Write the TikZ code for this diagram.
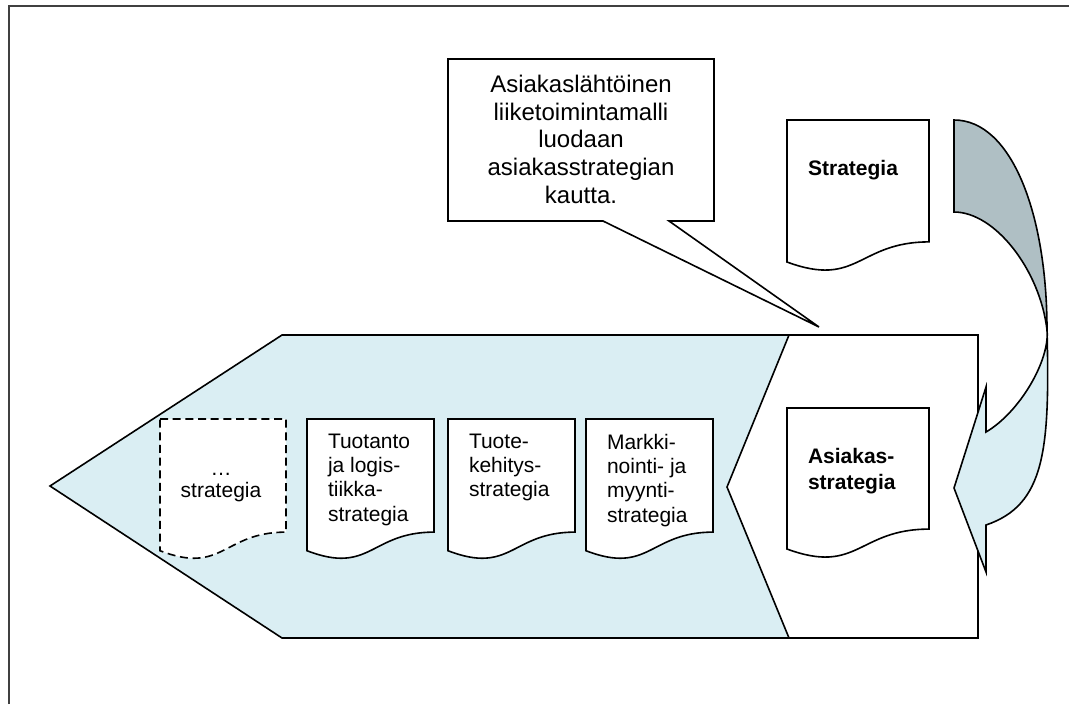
\documentclass[tikz,border=0pt]{standalone}
\usepackage{fontspec}
\setmainfont{Liberation Sans}
\newcommand\calltext{\fontsize{18pt}{20.85pt}\selectfont}
\newcommand\doctext{\fontsize{15.75pt}{18.2pt}\selectfont}
\newcommand\dashtext{\fontsize{15.75pt}{16.9pt}\selectfont}
\newcommand\boldtext{\fontsize{15.75pt}{19.5pt}\selectfont\bfseries}
\definecolor{lightaqua}{RGB}{218,238,243}
\definecolor{darkaqua}{RGB}{175,191,196}
\tikzset{
  outline/.style={draw=black, line width=1.2pt, line join=miter},
  docbox/.style={outline, fill=white},
  dashdoc/.style={draw=black, line width=1.2pt, fill=white, dash pattern=on 6pt off 3.5pt},
  frameline/.style={draw=black!75, line width=2pt},
  txt/.style={inner sep=0pt, outer sep=0pt},
}
\begin{document}
\begin{tikzpicture}[x=0.75pt,y=-0.75pt]
\useasboundingbox (0,0) rectangle (1069,704);
\fill[white] (0,0) rectangle (1069,704);
% frame (only top and left visible)
\draw[frameline] (9,704) -- (9,6) -- (1069,6);

% big arrow pointing left
\path[outline, fill=lightaqua] (50,486) coordinate (tipL) -- (282,335) -- (978,335) -- (978,638) -- (282,638) -- cycle;
% white chevron section
\path[outline, fill=white] (789,335) -- (978,335) -- (978,638) -- (789,638) -- (727,487) -- cycle;

% dashed document
\path[dashdoc] (160,419) -- (286,419) -- (286,532.1) .. controls (223,532.1) and (223,575.2) .. (160,550.7) -- cycle;
\node[txt, anchor=south, align=center, font=\dashtext] (dots) at (221,502) {…\\strategia};

% document 2
\path[docbox] (307,419) -- (434,419) -- (434,532.1) .. controls (370.5,532.1) and (370.5,575.2) .. (307,550.7) -- cycle;
\node[txt, anchor=north west, align=left, font=\doctext] (tuotanto) at (328,434) {Tuotanto\\ja logis-\\tiikka-\\strategia};

% document 3
\path[docbox] (448,419) -- (575,419) -- (575,532.1) .. controls (511.5,532.1) and (511.5,575.2) .. (448,550.7) -- cycle;
\node[txt, anchor=north west, align=left, font=\doctext] (tuote) at (469,434) {Tuote-\\kehitys-\\strategia};

% document 4
\path[docbox] (586,419) -- (713,419) -- (713,532.1) .. controls (649.5,532.1) and (649.5,575.2) .. (586,550.7) -- cycle;
\node[txt, anchor=north west, align=left, font=\doctext] (markki) at (607,434) {Markki-\\nointi- ja\\myynti-\\strategia};

% Asiakasstrategia document
\path[docbox] (787,408) -- (929,408) -- (929,529.1) .. controls (858,529.1) and (858,575.2) .. (787,549) -- cycle;
\node[txt, anchor=north west, align=left, font=\boldtext] (asiakas) at (808,448) {Asiakas-\\strategia};

% Strategia document
\path[docbox] (787,120) -- (929,120) -- (929,241.9) .. controls (858,241.9) and (858,288.3) .. (787,262) -- cycle;
\node[txt, font=\boldtext] (strategia) at (853,170) {Strategia};

% callout
\path[outline, fill=white] (448,59) -- (714,59) -- (714,221) -- (669,221) -- (819,327) coordinate (calltip) -- (603,221) -- (448,221) -- cycle;
\node[txt, anchor=north, align=center, font=\calltext] (callout) at (581,75) {Asiakaslähtöinen\\liiketoimintamalli\\luodaan\\asiakasstrategian\\kautta.};

% curved arrow
\coordinate (A) at (954,120);
\coordinate (B) at (954,212);
\coordinate (X) at (1047,330);
\coordinate (N) at (986,432);
\coordinate (H1) at (986,387);
\coordinate (T) at (954,488);
\coordinate (H2) at (986,572);
\coordinate (M) at (986,525);
\path[outline, fill=darkaqua] (A) .. controls (1012,120) and (1047,215) .. (X)
  .. controls (1040,270) and (995,212) .. (B) -- cycle;
\path[outline, fill=lightaqua] (X) .. controls (1050,450) and (1045,505) .. (M)
  -- (H2) -- (T) -- (H1) -- (N) .. controls (1020,412) and (1050,360) .. (X) -- cycle;
\end{tikzpicture}
\end{document}
